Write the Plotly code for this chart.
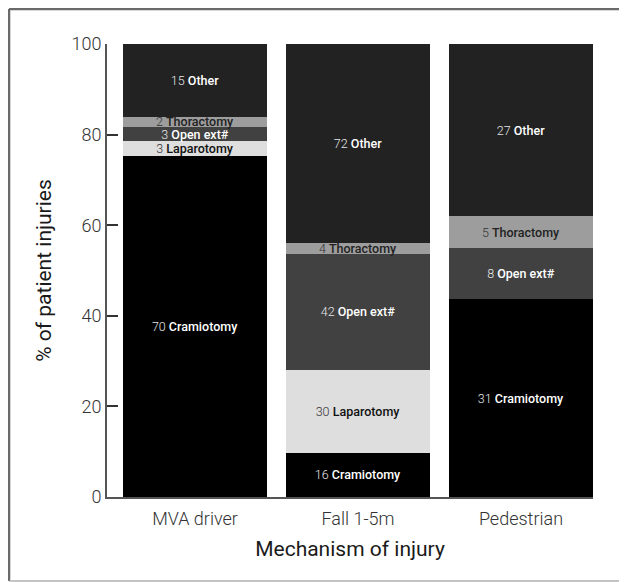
import plotly.graph_objects as go

categories = ["MVA driver", "Fall 1-5m", "Pedestrian"]
procedures = ["Cramiotomy", "Laparotomy", "Open ext#", "Thoractomy", "Other"]
craniotomy = [70, 16, 31]
laparotomy = [3, 30, None]
open_ext = [3, 42, 8]
thoracotomy = [2, 4, 5]
other = [15, 72, 27]
y_ticks = [0, 20, 40, 60, 80, 100]

series = [craniotomy, laparotomy, open_ext, thoracotomy, other]
fills = ["#000000", "#dedede", "#414141", "#9d9d9d", "#222222"]
text_colors = ["#ffffff", "#111111", "#ffffff", "#222222", "#ffffff"]
num_colors = ["#e6e6e6", "#333333", "#e6e6e6", "#333333", "#e6e6e6"]

FONT = "Roboto"

fig = go.Figure()
for name, vals, fill, tc, nc in zip(procedures, series, fills, text_colors, num_colors):
    labels = [
        "" if v is None else
        f"<span style='color:{nc};font-weight:300'>{v}</span> <span style='font-weight:500'>{name}</span>"
        for v in vals
    ]
    fig.add_trace(go.Bar(
        x=categories, y=vals, name=name,
        marker=dict(color=fill, line=dict(width=0)),
        text=labels, textposition="inside", insidetextanchor="middle",
        textangle=0, constraintext="none",
        textfont=dict(family=FONT, size=12.5, color=tc),
        hoverinfo="skip",
    ))

fig.update_layout(
    barmode="stack", barnorm="percent", bargap=0.117,
    width=627, height=582,
    margin=dict(l=99, r=42, t=36, b=93),
    paper_bgcolor="white", plot_bgcolor="white",
    showlegend=False,
    uniformtext=dict(minsize=12, mode="show"),
    font=dict(family=FONT, color="#333333"),
    xaxis=dict(
        range=[-0.54, 2.442], showgrid=False, zeroline=False, automargin=False,
        showline=True, linecolor="#555555", linewidth=2,
        ticks="", ticklabelstandoff=4, tickfont=dict(size=18, color="#333333", weight=300),
        title=dict(text="Mechanism of injury", font=dict(size=21, color="#1a1a1a"), standoff=14),
    ),
    yaxis=dict(
        range=[0, 100], tickvals=y_ticks, showgrid=False, zeroline=False, automargin=False,
        showline=True, linecolor="#555555", linewidth=2,
        ticks="inside", ticklen=11, tickwidth=1.5, tickcolor="#333333",
        tickfont=dict(size=18, color="#333333", weight=300),
        title=dict(text="% of patient injuries", font=dict(size=21, color="#1a1a1a"), standoff=14),
    ),
    shapes=[
        dict(type="line", xref="paper", yref="paper", x0=-0.2016, x1=1.1, y0=1.0773, y1=1.0773,
             line=dict(color="#6a6a6a", width=2.5)),
        dict(type="line", xref="paper", yref="paper", x0=-0.2016, x1=-0.2016, y0=1.0773, y1=-0.1854,
             line=dict(color="#6a6a6a", width=2.5)),
        dict(type="line", xref="paper", yref="paper", x0=-0.2016, x1=1.1, y0=-0.1854, y1=-0.1854,
             line=dict(color="#b0b0b0", width=1.5)),
    ],
)

fig.write_html("out.html")
